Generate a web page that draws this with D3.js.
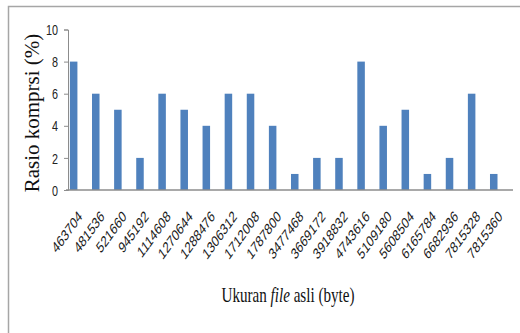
<!DOCTYPE html>
<html>
<head>
<meta charset="utf-8">
<script src="https://cdn.jsdelivr.net/npm/d3@7"></script>
<style>
  html, body { margin: 0; padding: 0; background: #fff; }
  svg { display: block; }
</style>
</head>
<body>
<svg id="chart" width="520" height="333"></svg>
<script>
// Original file sizes (bytes) and compression ratio (%)
const fileSizes = ["463704", "481536", "521660", "945192", "1114608", "1270644", "1288476",
  "1306312", "1712008", "1787800", "3477468", "3669172", "3918832", "4743616",
  "5109180", "5608504", "6165784", "6682936", "7815328", "7815360"];
const ratios = [8, 6, 5, 2, 6, 5, 4, 6, 6, 4, 1, 2, 2, 8, 4, 5, 1, 2, 6, 1];
const yTicks = [0, 2, 4, 6, 8, 10];

const svg = d3.select("#chart");
const squeeze = 0.72; // horizontal text compression

// Outer frame
svg.append("rect")
  .attr("x", 8.5).attr("y", 6.5)
  .attr("width", 600).attr("height", 400)
  .attr("fill", "none").attr("stroke", "#a6a6a6").attr("stroke-width", 1.5);

const x = d3.scaleBand()
  .domain(fileSizes)
  .range([62.6, 504.8])
  .paddingInner(0.66)
  .paddingOuter(0.33);

const y = d3.scaleLinear().domain([0, 10]).range([190, 29.5]);

// Bars
svg.append("g")
  .selectAll("rect")
  .data(ratios)
  .join("rect")
  .attr("x", (d, i) => x(fileSizes[i]))
  .attr("y", d => y(d))
  .attr("width", x.bandwidth())
  .attr("height", d => y(0) - y(d))
  .attr("fill", "#4f81bd");

// Y axis
const yAxis = svg.append("g")
  .attr("transform", "translate(68,0)")
  .call(d3.axisLeft(y).tickValues(yTicks).tickSize(4).tickPadding(0).tickFormat(d3.format("d")));
yAxis.select(".domain").attr("stroke", "#8c8c8c");
yAxis.selectAll(".tick line").attr("stroke", "#8c8c8c");
yAxis.selectAll(".tick text")
  .attr("x", null).attr("dy", null)
  .attr("text-anchor", "end")
  .attr("dominant-baseline", "central")
  .attr("transform", `translate(-10,0) scale(${squeeze},1)`)
  .attr("font-family", "'Liberation Sans', Arial, sans-serif")
  .attr("font-size", 15)
  .attr("fill", "#222");

// X axis baseline
svg.append("line")
  .attr("x1", 66).attr("x2", 513)
  .attr("y1", y(0)).attr("y2", y(0))
  .attr("stroke", "#8c8c8c").attr("stroke-width", 1.6);

// X tick labels (rotated)
const xAxis = svg.append("g")
  .attr("transform", "translate(0,190)")
  .call(d3.axisBottom(x).tickSize(0).tickPadding(0));
xAxis.select(".domain").remove();
xAxis.selectAll(".tick text")
  .attr("y", null).attr("dy", null)
  .attr("text-anchor", "end")
  .attr("transform", `translate(9.3,27.5) scale(${squeeze},1) rotate(-45)`)
  .attr("font-family", "'Liberation Sans', Arial, sans-serif")
  .attr("font-size", 15.5)
  .attr("fill", "#1a1a1a");

// Axis titles
svg.append("text")
  .attr("transform", "translate(38.5,113) rotate(-90)")
  .attr("text-anchor", "middle")
  .attr("font-family", "'Liberation Serif', 'Times New Roman', serif")
  .attr("font-size", 21)
  .attr("fill", "#111")
  .text("Rasio komprsi (%)");

const xTitle = svg.append("text")
  .attr("transform", `translate(288,302) scale(${squeeze},1)`)
  .attr("text-anchor", "middle")
  .attr("font-family", "'Liberation Serif', 'Times New Roman', serif")
  .attr("font-size", 21)
  .attr("fill", "#111");
xTitle.append("tspan").text("Ukuran ");
xTitle.append("tspan").attr("font-style", "italic").text("file");
xTitle.append("tspan").text(" asli (byte)");
</script>
</body>
</html>
